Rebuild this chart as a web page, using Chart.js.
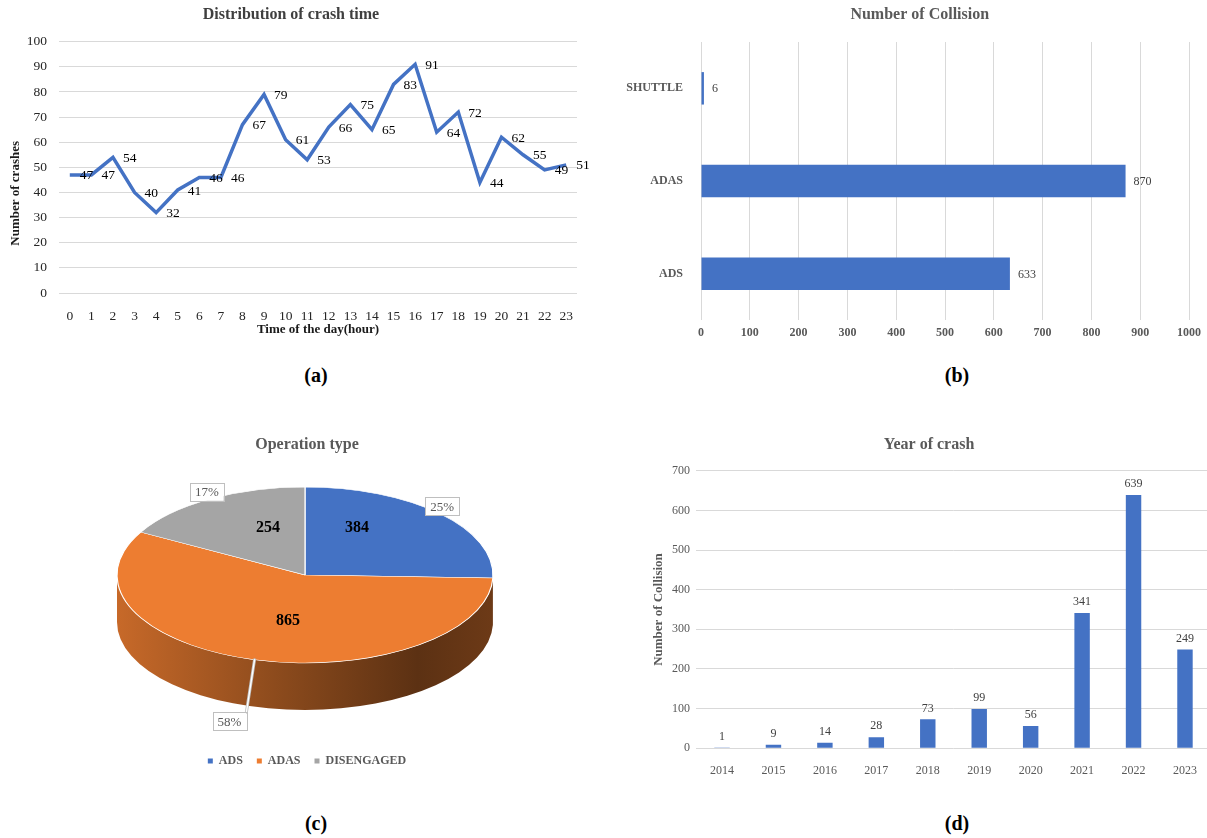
<!DOCTYPE html>
<html><head><meta charset="utf-8">
<script src="https://cdn.jsdelivr.net/npm/chart.js@4"></script>
<style>
html,body{margin:0;padding:0;background:#fff;width:1207px;height:838px;overflow:hidden;position:relative;}
canvas{position:absolute;}
.cap{position:absolute;font-family:"Liberation Serif","Times New Roman",serif;font-weight:bold;font-size:20px;color:#000;transform:translate(-50%,-50%);white-space:nowrap;}
</style></head><body>
<canvas id="ca" width="600" height="345" style="left:0px;top:0px;width:600px;height:345px"></canvas>
<canvas id="cb" width="607" height="345" style="left:600px;top:0px;width:607px;height:345px"></canvas>
<canvas id="cc" width="610" height="375" style="left:0px;top:410px;width:610px;height:375px"></canvas>
<canvas id="cd" width="602" height="375" style="left:610px;top:410px;width:602px;height:375px"></canvas>
<div class="cap" style="left:316px;top:375px">(a)</div>
<div class="cap" style="left:957px;top:375px">(b)</div>
<div class="cap" style="left:316px;top:823px">(c)</div>
<div class="cap" style="left:957px;top:823px">(d)</div>
<script>
// ---------- data ----------
const hours = ['0','1','2','3','4','5','6','7','8','9','10','11','12','13','14','15','16','17','18','19','20','21','22','23'];
const crashesByHour = [47,47,54,40,32,41,46,46,67,79,61,53,66,75,65,83,91,64,72,44,62,55,49,51];
const collisionCategories = ['ADS','ADAS','SHUTTLE'];
const collisionCounts = [633,870,6];
const operationTypes = ['ADS','ADAS','DISENGAGED'];
const operationCounts = [384,865,254];
const years = ['2014','2015','2016','2017','2018','2019','2020','2021','2022','2023'];
const crashesByYear = [1,9,14,28,73,99,56,341,639,249];

const SERIF = '"Liberation Serif", "Times New Roman", serif';
const BLUE = '#4472C4';
const GRID = '#d9d9d9';

// shifts the chart title box horizontally (title stays a Chart.js title)
const titleShift = {
  id:'titleShift',
  afterLayout(chart,args,o){
    const t=chart.titleBlock; if(!t||!o||!o.dx) return;
    t.left+=o.dx; t.right+=o.dx;
  }
};

// ---------- (a) line chart ----------
const lineLabels = {
  id:'lineLabels',
  afterDatasetsDraw(chart){
    const ctx=chart.ctx, meta=chart.getDatasetMeta(0), d=chart.data.datasets[0].data;
    ctx.save();
    ctx.font='13.5px '+SERIF; ctx.fillStyle='#000'; ctx.textAlign='left'; ctx.textBaseline='middle';
    meta.data.forEach((p,i)=>ctx.fillText(String(d[i]), p.x+10, p.y+1));
    ctx.restore();
  }
};
const yTitleA = {
  id:'yTitleA',
  afterDraw(chart){
    const ctx=chart.ctx, ca=chart.chartArea;
    ctx.save();
    ctx.translate(16,(ca.top+ca.bottom)/2+26);
    ctx.rotate(-Math.PI/2);
    ctx.font='bold 13px '+SERIF; ctx.fillStyle='#1a1a1a'; ctx.textAlign='center'; ctx.textBaseline='middle';
    ctx.fillText('Number of crashes',0,0);
    ctx.restore();
  }
};
new Chart(document.getElementById('ca'),{
  type:'line',
  data:{labels:hours,datasets:[{data:crashesByHour,borderColor:BLUE,borderWidth:3.5,pointRadius:0,tension:0,fill:false}]},
  options:{
    responsive:false,animation:false,
    layout:{padding:{left:0,right:23,top:0,bottom:5}},
    plugins:{
      legend:{display:false},tooltip:{enabled:false},
      titleShift:{dx:2.5},
      title:{display:true,text:'Distribution of crash time',color:'#3f3f3f',font:{family:SERIF,size:16,weight:'bold'},padding:{top:5,bottom:17.5}}
    },
    scales:{
      x:{offset:true,grid:{display:false},border:{display:false},
         ticks:{color:'#262626',font:{family:SERIF,size:13.5},padding:7,maxRotation:0,autoSkip:false},
         title:{display:true,text:'Time of the day(hour)',color:'#1a1a1a',font:{family:SERIF,size:13,weight:'bold'},padding:{top:4,bottom:3}},
         afterFit(s){s.height=47;}},
      y:{min:0,max:100,grid:{color:GRID,drawTicks:false},border:{display:false},
         ticks:{stepSize:10,color:'#262626',font:{family:SERIF,size:13.5},padding:12},
         afterFit(s){s.width=59;}}
    }
  },
  plugins:[lineLabels,yTitleA,titleShift]
});

// ---------- (b) horizontal bar ----------
const hbarLabels = {
  id:'hbarLabels',
  afterDatasetsDraw(chart){
    const ctx=chart.ctx, meta=chart.getDatasetMeta(0), d=chart.data.datasets[0].data;
    ctx.save();
    ctx.font='12px '+SERIF; ctx.fillStyle='#404040'; ctx.textAlign='left'; ctx.textBaseline='middle';
    meta.data.forEach((b,i)=>ctx.fillText(String(d[i]), b.x+8, b.y+1));
    ctx.restore();
  }
};
new Chart(document.getElementById('cb'),{
  type:'bar',
  data:{labels:collisionCategories,datasets:[{data:collisionCounts,backgroundColor:BLUE,barPercentage:0.35,categoryPercentage:1}]},
  options:{
    indexAxis:'y',responsive:false,animation:false,
    layout:{padding:{left:0,right:17.5,top:0,bottom:0}},
    plugins:{
      legend:{display:false},tooltip:{enabled:false},
      titleShift:{dx:25},
      title:{display:true,text:'Number of Collision',color:'#595959',font:{family:SERIF,size:16,weight:'bold'},padding:{top:5,bottom:17.8}}
    },
    scales:{
      x:{min:0,max:1000,grid:{color:GRID,drawTicks:false},border:{display:false},
         ticks:{stepSize:100,color:'#595959',font:{family:SERIF,size:12,weight:'bold'},padding:6,maxRotation:0,callback:v=>String(v)},
         afterFit(s){s.height=25;}},
      y:{reverse:true,grid:{display:false},border:{display:false},
         ticks:{color:'#595959',font:{family:SERIF,size:12,weight:'bold'},padding:10},
         afterFit(s){s.width=101;}}
    }
  },
  plugins:[hbarLabels,titleShift]
});

// ---------- (c) pseudo-3D pie ----------
function shade(hex,f){
  const n=parseInt(hex.slice(1),16);
  const r=Math.round(((n>>16)&255)*f), g=Math.round(((n>>8)&255)*f), b=Math.round((n&255)*f);
  return 'rgb('+r+','+g+','+b+')';
}
function roundedPercents(vals){
  const tot=vals.reduce((a,b)=>a+b,0);
  const raw=vals.map(v=>v*100/tot);
  const fl=raw.map(Math.floor);
  let left=100-fl.reduce((a,b)=>a+b,0);
  const order=raw.map((r,i)=>[r-Math.floor(r),i]).sort((a,b)=>b[0]-a[0]);
  for(let j=0;j<left;j++) fl[order[j][1]]++;
  return fl;
}
const pie3d = {
  id:'pie3d',
  beforeDatasetsDraw(chart,args,o){
    const meta=chart.getDatasetMeta(0); if(!meta.data.length) return;
    const ctx=chart.ctx, el0=meta.data[0];
    const R=el0.outerRadius, cx=el0.x, cy=el0.y;
    const colors=chart.data.datasets[0].backgroundColor;
    meta.data.forEach((el,i)=>{
      const a1=Math.max(el.startAngle,0), a2=Math.min(el.endAngle,Math.PI);
      if(a2<=a1) return;
      const g=ctx.createLinearGradient(o.tx-R,0,o.tx+R,0);
      g.addColorStop(0,shade(colors[i],0.84));
      g.addColorStop(0.45,shade(colors[i],0.58));
      g.addColorStop(0.8,shade(colors[i],0.39));
      g.addColorStop(1,shade(colors[i],0.46));
      ctx.save();
      ctx.beginPath();
      ctx.ellipse(o.tx,o.ty,R,R*o.k,0,a1,a2,false);
      ctx.lineTo(o.tx+R*Math.cos(a2),o.ty+R*o.k*Math.sin(a2)+o.depth);
      ctx.ellipse(o.tx,o.ty+o.depth,R,R*o.k,0,a2,a1,true);
      ctx.closePath();
      ctx.fillStyle=g; ctx.fill();
      ctx.restore();
    });
    ctx.save();
    ctx.translate(o.tx,o.ty); ctx.scale(1,o.k); ctx.translate(-cx,-cy);
  },
  afterDatasetsDraw(chart,args,o){
    const ctx=chart.ctx; ctx.restore();
    const meta=chart.getDatasetMeta(0); if(!meta.data.length) return;
    const data=chart.data.datasets[0].data, pct=roundedPercents(data);
    const R=meta.data[0].outerRadius, D=Math.PI/180;
    ctx.save();
    meta.data.forEach((el,i)=>{
      const mid=(el.startAngle+el.endAngle)/2;
      const va=mid+o.valueNudge[i]*D, vr=R*o.valueRadius[i];
      ctx.font='bold 16px '+SERIF; ctx.fillStyle='#000'; ctx.textAlign='center'; ctx.textBaseline='middle';
      ctx.fillText(String(data[i]),o.tx+vr*Math.cos(va),o.ty+vr*o.k*Math.sin(va));
      const pa=mid+o.pctNudge[i]*D, pr=R*o.pctRadius[i];
      let px=o.tx+pr*Math.cos(pa), py=o.ty+pr*o.k*Math.sin(pa);
      const front=Math.sin(pa)>0.3;
      if(front) py+=o.depth;
      const txt=pct[i]+'%';
      ctx.font='13px '+SERIF;
      const w=ctx.measureText(txt).width+10, h=18;
      const bx=px-w/2, by=py-h/2;
      const ex=o.tx+R*Math.cos(mid), ey=o.ty+R*o.k*Math.sin(mid);
      const nx=Math.min(Math.max(ex,bx),bx+w), ny=Math.min(Math.max(ey,by),by+h);
      if(Math.hypot(ex-nx,ey-ny)>1){
        ctx.lineCap='round';
        ctx.beginPath(); ctx.moveTo(ex,ey); ctx.lineTo(nx,ny);
        ctx.strokeStyle='#bfbfbf'; ctx.lineWidth=front?3:1; ctx.stroke();
        if(front){ctx.beginPath(); ctx.moveTo(ex,ey); ctx.lineTo(nx,ny); ctx.strokeStyle='#ffffff'; ctx.lineWidth=1.4; ctx.stroke();}
      }
      ctx.fillStyle='#fff'; ctx.fillRect(bx,by,w,h);
      ctx.strokeStyle='#bfbfbf'; ctx.lineWidth=1; ctx.strokeRect(Math.round(bx)+0.5,Math.round(by)+0.5,Math.round(w),h);
      ctx.fillStyle='#595959'; ctx.textAlign='center'; ctx.textBaseline='middle';
      ctx.fillText(txt,px,py+1);
    });
    ctx.restore();
  }
};
new Chart(document.getElementById('cc'),{
  type:'pie',
  data:{labels:operationTypes,datasets:[{data:operationCounts,backgroundColor:['#4472C4','#ED7D31','#A5A5A5'],borderColor:'#ffffff',borderWidth:1.2,clip:false}]},
  options:{
    responsive:false,animation:false,radius:188,
    layout:{padding:{left:4,right:0,top:0,bottom:8}},
    plugins:{
      tooltip:{enabled:false},
      title:{display:true,text:'Operation type',color:'#595959',font:{family:SERIF,size:16,weight:'bold'},padding:{top:25.4,bottom:10}},
      legend:{position:'bottom',labels:{boxWidth:5,boxHeight:5,padding:14,color:'#595959',font:{family:SERIF,size:12,weight:'bold'},
        generateLabels(chart){const it=Chart.overrides.pie.plugins.legend.labels.generateLabels(chart);it.forEach(x=>{x.strokeStyle=x.fillStyle;x.lineWidth=0;});return it;}}},
      pie3d:{tx:305,ty:165,k:0.468,depth:47,
        valueNudge:[-18.5,-5.8,10.2],valueRadius:[0.60,0.53,0.57],
        pctNudge:[-3,4,1.5],pctRadius:[1.07,1.2,1.08]}
    }
  },
  plugins:[pie3d]
});

// ---------- (d) vertical bar ----------
const vbarLabels = {
  id:'vbarLabels',
  afterDatasetsDraw(chart){
    const ctx=chart.ctx, meta=chart.getDatasetMeta(0), d=chart.data.datasets[0].data;
    ctx.save();
    ctx.font='12px '+SERIF; ctx.fillStyle='#404040'; ctx.textAlign='center'; ctx.textBaseline='middle';
    meta.data.forEach((b,i)=>ctx.fillText(String(d[i]), b.x, b.y-11));
    ctx.restore();
  }
};
new Chart(document.getElementById('cd'),{
  type:'bar',
  data:{labels:years,datasets:[{data:crashesByYear,backgroundColor:BLUE,barPercentage:0.3,categoryPercentage:1}]},
  options:{
    responsive:false,animation:false,
    layout:{padding:{left:37.3,right:1.3,top:0,bottom:0}},
    plugins:{
      legend:{display:false},tooltip:{enabled:false},
      title:{display:true,text:'Year of crash',color:'#595959',font:{family:SERIF,size:16,weight:'bold'},padding:{top:25.4,bottom:16.1}}
    },
    scales:{
      x:{grid:{display:false},border:{display:false},
         ticks:{color:'#595959',font:{family:SERIF,size:12},padding:7.5,maxRotation:0,autoSkip:false},
         afterFit(s){s.height=36.7;}},
      y:{min:0,max:700,grid:{color:GRID,drawTicks:false},border:{display:false},
         ticks:{stepSize:100,color:'#595959',font:{family:SERIF,size:12},padding:6.3},
         title:{display:true,text:'Number of Collision',color:'#595959',font:{family:SERIF,size:13,weight:'bold'},padding:{top:4,bottom:0}},
         afterFit(s){s.width=49;}}
    }
  },
  plugins:[vbarLabels]
});
</script>
</body></html>
